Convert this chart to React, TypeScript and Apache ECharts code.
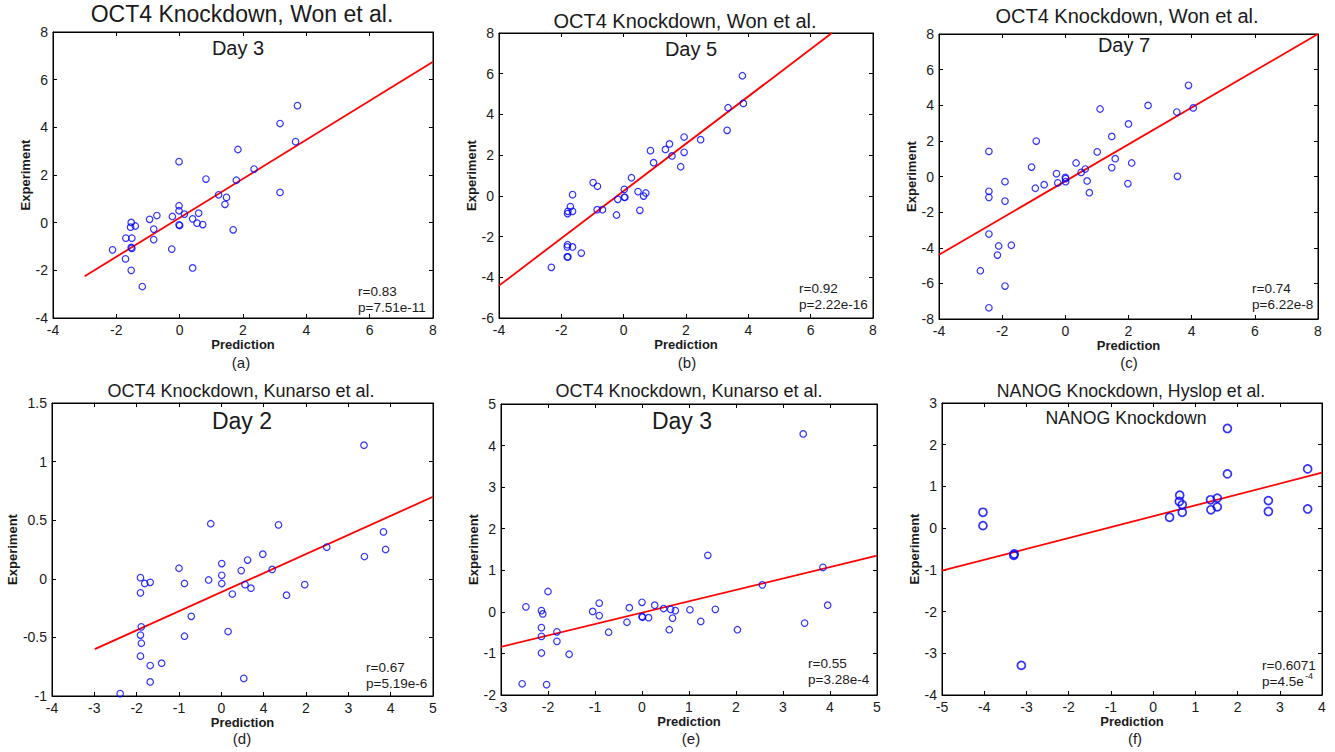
import React, { useEffect, useRef } from "react";
import * as echarts from "echarts";

// ---------- Data ----------
// (a) OCT4 Knockdown, Won et al., Day 3
const aPred = [-2.12, -1.7, -1.71, -1.53, -1.55, -1.4, -1.51, -1.53, -1.51, -1.53, -1.18, -0.95, -0.72, -0.82, -0.82, -0.25, -0.23, -0.02, -0.02, -0.02, -0.02, 0, 0.15, 0.41, 0.55, 0.6, 0.73, 0.41, 0.83, 1.23, 1.48, 1.43, 1.69, 1.79, 1.84, 2.35, 3.17, 3.17, 3.66, 3.72];
const aExp = [-1.14, -0.65, -1.52, 0.01, -0.19, -0.14, -0.65, -1.04, -1.08, -2.0, -2.68, 0.14, 0.3, -0.27, -0.71, -1.11, 0.26, 2.56, 0.71, 0.5, -0.09, -0.12, 0.36, 0.16, -0.02, 0.4, -0.08, -1.9, 1.83, 1.17, 1.06, 0.77, -0.3, 1.78, 3.07, 2.25, 4.16, 1.27, 3.4, 4.91];
const aFitX = [-3, 8];
const aFitY = [-2.25, 6.75];

// (b) OCT4 Knockdown, Won et al., Day 5
const bPred = [-2.32, -1.81, -1.79, -1.81, -1.8, -1.64, -1.36, -1.8, -1.79, -1.64, -1.71, -1.64, -0.98, -0.84, -0.85, -0.68, -0.23, -0.19, 0.02, 0.02, 0.04, 0.25, 0.46, 0.71, 0.64, 0.52, 0.86, 0.96, 1.34, 1.47, 1.55, 1.83, 1.94, 1.94, 2.47, 3.35, 3.32, 3.81, 3.84];
const bExp = [-3.51, -3.0, -3.0, -2.51, -2.4, -2.51, -2.81, -0.87, -0.76, -0.76, -0.53, 0.06, 0.65, 0.47, -0.68, -0.68, -0.94, -0.17, 0.32, -0.07, -0.07, 0.89, 0.21, 0.14, -0.01, -0.71, 2.22, 1.63, 2.28, 2.55, 1.96, 1.43, 2.89, 2.14, 2.76, 4.33, 3.22, 5.9, 4.54];
const bFitX = [-4, 6.68];
const bFitY = [-4.41, 8];

// (c) OCT4 Knockdown, Won et al., Day 7
const cPred = [-2.69, -2.42, -2.42, -2.42, -2.42, -2.42, -2.11, -2.15, -1.91, -1.91, -1.71, -1.91, -1.07, -0.92, -0.95, -0.67, -0.28, -0.24, 0, 0.01, 0.01, 0.34, 0.5, 0.63, 0.69, 0.76, 1.01, 1.1, 1.47, 1.58, 1.47, 2.0, 2.1, 1.98, 2.62, 3.53, 3.55, 3.9, 4.05];
const cExp = [-5.29, -7.37, -3.23, -0.83, -1.17, 1.41, -3.9, -4.41, -0.29, -1.38, -3.86, -6.15, 0.53, 1.99, -0.66, -0.46, 0.16, -0.36, -0.05, -0.12, -0.29, 0.76, 0.23, 0.42, -0.25, -0.91, 1.38, 3.79, 2.25, 1.0, 0.5, 2.95, 0.76, -0.4, 3.99, 3.62, 0.01, 5.12, 3.85];
const cFitX = [-4, 8];
const cFitY = [-4.39, 8];

// (d) OCT4 Knockdown, Kunarso et al., Day 2
const dPred = [-2.39, -1.91, -1.81, -1.68, -1.91, -1.89, -1.91, -1.89, -1.91, -1.68, -1.41, -1.68, -1.0, -0.87, -0.71, -0.87, -0.3, -0.25, 0.01, 0.01, 0.01, 0.26, 0.16, 0.47, 0.56, 0.62, 0.7, 0.98, 1.2, 1.35, 1.54, 1.97, 0.53, 2.49, 3.37, 3.38, 3.83, 3.88];
const dExp = [-0.98, 0.01, -0.04, -0.03, -0.12, -0.41, -0.48, -0.55, -0.66, -0.74, -0.72, -0.88, 0.09, -0.04, -0.32, -0.49, -0.01, 0.47, 0.13, 0.03, -0.04, -0.13, -0.45, 0.07, -0.05, 0.16, -0.08, 0.21, 0.08, 0.46, -0.14, -0.05, -0.85, 0.27, 1.14, 0.19, 0.4, 0.25];
const dFitX = [-2.99, 5];
const dFitY = [-0.6, 0.7];
const dXTickLabels = ["-4", "-3", "-2", "-1", "0", "4", "2", "3", "4", "5"];

// (e) OCT4 Knockdown, Kunarso et al., Day 3
const ePred = [-2.55, -2.47, -2.14, -2.11, -2.14, -2.14, -2.14, -2.0, -2.03, -1.81, -1.81, -1.55, -1.05, -0.91, -0.91, -0.71, -0.32, -0.27, 0, 0, 0.01, 0.14, 0.27, 0.46, 0.61, 0.71, 0.65, 0.58, 1.02, 1.25, 1.4, 1.56, 2.03, 2.56, 3.43, 3.46, 3.85, 3.95];
const eExp = [-1.73, 0.12, 0.03, -0.05, -0.38, -0.59, -0.99, 0.49, -1.75, -0.48, -0.71, -1.02, 0.01, 0.21, -0.09, -0.49, -0.25, 0.1, 0.23, -0.11, -0.13, -0.14, 0.16, 0.08, 0.06, 0.03, -0.15, -0.43, 0.05, -0.23, 1.36, 0.06, -0.43, 0.65, 4.28, -0.27, 1.07, 0.16];
const eFitX = [-3, 5];
const eFitY = [-0.84, 1.35];

// (f) NANOG Knockdown, Hyslop et al.
const fPred = [-4.03, -4.03, -3.3, -3.29, -3.12, 0.39, 0.63, 0.62, 0.69, 0.69, 1.36, 1.37, 1.52, 1.52, 1.76, 1.76, 2.73, 2.73, 3.66, 3.66];
const fExp = [0.38, 0.06, -0.65, -0.62, -3.29, 0.26, 0.79, 0.64, 0.56, 0.38, 0.68, 0.44, 0.72, 0.51, 2.39, 1.3, 0.66, 0.4, 1.42, 0.46];
const fFitX = [-5, 4];
const fFitY = [-1.02, 1.33];

const FONT = 'Arial, "Liberation Sans", Helvetica, sans-serif';
const TXT = "#1a1a1a";

type Panel = {
  pred: number[];
  exp: number[];
  fitX: number[];
  fitY: number[];
  grid: { left: number; top: number; width: number; height: number };
  x: [number, number, number];
  y: [number, number, number];
  xLabels?: string[];
  yNameGap: number;
  big?: boolean;
};

const panels: Panel[] = [
  { pred: aPred, exp: aExp, fitX: aFitX, fitY: aFitY, grid: { left: 53, top: 32, width: 380, height: 286 }, x: [-4, 8, 2], y: [-4, 8, 2], yNameGap: 21 },
  { pred: bPred, exp: bExp, fitX: bFitX, fitY: bFitY, grid: { left: 499, top: 33, width: 374, height: 285 }, x: [-4, 8, 2], y: [-6, 8, 2], yNameGap: 19 },
  { pred: cPred, exp: cExp, fitX: cFitX, fitY: cFitY, grid: { left: 939, top: 34, width: 379, height: 285 }, x: [-4, 8, 2], y: [-8, 8, 2], yNameGap: 19 },
  { pred: dPred, exp: dExp, fitX: dFitX, fitY: dFitY, grid: { left: 52, top: 403, width: 381, height: 293 }, x: [-4, 5, 1], y: [-1, 1.5, 0.5], xLabels: dXTickLabels, yNameGap: 33 },
  { pred: ePred, exp: eExp, fitX: eFitX, fitY: eFitY, grid: { left: 501, top: 404, width: 376, height: 291 }, x: [-3, 5, 1], y: [-2, 5, 1], yNameGap: 20 },
  { pred: fPred, exp: fExp, fitX: fFitX, fitY: fFitY, grid: { left: 942, top: 403, width: 380, height: 292 }, x: [-5, 4, 1], y: [-4, 3, 1], yNameGap: 19, big: true },
];

const titles = [
  { text: "OCT4 Knockdown, Won et al.", x: 242, y: 14, size: 23 },
  { text: "OCT4 Knockdown, Won et al.", x: 685, y: 21, size: 20 },
  { text: "OCT4 Knockdown, Won et al.", x: 1127, y: 16, size: 20 },
  { text: "OCT4 Knockdown, Kunarso et al.", x: 241, y: 391, size: 18 },
  { text: "OCT4 Knockdown, Kunarso et al.", x: 689, y: 391, size: 18 },
  { text: "NANOG Knockdown, Hyslop et al.", x: 1131, y: 391, size: 17.7 },
];
const subtitles = [
  { text: "Day 3", x: 238, y: 48, size: 20 },
  { text: "Day 5", x: 691, y: 49, size: 20 },
  { text: "Day 7", x: 1124, y: 45, size: 20 },
  { text: "Day 2", x: 242, y: 421, size: 23 },
  { text: "Day 3", x: 682, y: 421, size: 23 },
  { text: "NANOG Knockdown", x: 1126, y: 418, size: 17.7 },
];
const panelLetters = [
  { text: "(a)", x: 241, y: 362 },
  { text: "(b)", x: 687, y: 362 },
  { text: "(c)", x: 1129, y: 362 },
  { text: "(d)", x: 242, y: 738 },
  { text: "(e)", x: 691, y: 738 },
  { text: "(f)", x: 1135, y: 738 },
];
const stats = [
  { r: "r=0.83", p: "p=7.51e-11", x: 358, y: 291 },
  { r: "r=0.92", p: "p=2.22e-16", x: 799, y: 288 },
  { r: "r=0.74", p: "p=6.22e-8", x: 1252, y: 288 },
  { r: "r=0.67", p: "p=5.19e-6", x: 366, y: 667 },
  { r: "r=0.55", p: "p=3.28e-4", x: 808, y: 663 },
  { r: "r=0.6071", p: "p=4.5e", x: 1262, y: 665, sup: "-4" },
];

function txt(text: string, x: number, y: number, size: number, extra: any = {}) {
  return {
    type: "text",
    x,
    y,
    z: 100,
    style: {
      text,
      fill: TXT,
      fontSize: size,
      fontFamily: FONT,
      textAlign: extra.align || "center",
      align: extra.align || "center",
      textVerticalAlign: "middle",
      verticalAlign: "middle",
      fontWeight: extra.weight || "normal",
    },
  };
}

function buildOption() {
  const grid: any[] = [];
  const xAxis: any[] = [];
  const yAxis: any[] = [];
  const series: any[] = [];
  const axisLine = { show: true, onZero: false, lineStyle: { color: "#000", width: 1 } };
  const tick = { show: true, inside: true, length: 4, lineStyle: { color: "#000", width: 1 } };

  panels.forEach((p, i) => {
    grid.push({ ...p.grid, show: true, borderColor: "#000", borderWidth: 1, backgroundColor: "#fff" });
    const xLabels = p.xLabels;
    xAxis.push({
      type: "value",
      gridIndex: i,
      position: "bottom",
      min: p.x[0],
      max: p.x[1],
      interval: p.x[2],
      axisLine,
      axisTick: tick,
      splitLine: { show: false },
      axisLabel: {
        show: true,
        margin: 5,
        color: TXT,
        fontSize: 14,
        fontFamily: FONT,
        formatter: xLabels
          ? (v: number) => xLabels[Math.round((v - p.x[0]) / p.x[2])] ?? String(v)
          : undefined,
      },
      name: "Prediction",
      nameLocation: "middle",
      nameGap: 20,
      nameTextStyle: { color: TXT, fontSize: 13, fontWeight: "bold", fontFamily: FONT },
    });
    xAxis.push({
      type: "value",
      gridIndex: i,
      position: "top",
      min: p.x[0],
      max: p.x[1],
      interval: p.x[2],
      axisLine,
      axisTick: tick,
      axisLabel: { show: false },
      splitLine: { show: false },
    });
    yAxis.push({
      type: "value",
      gridIndex: i,
      position: "left",
      min: p.y[0],
      max: p.y[1],
      interval: p.y[2],
      axisLine,
      axisTick: tick,
      splitLine: { show: false },
      axisLabel: { show: true, margin: 5, color: TXT, fontSize: 14, fontFamily: FONT },
      name: "Experiment",
      nameLocation: "middle",
      nameGap: p.yNameGap,
      nameTextStyle: { color: TXT, fontSize: 13, fontWeight: "bold", fontFamily: FONT },
    });
    yAxis.push({
      type: "value",
      gridIndex: i,
      position: "right",
      min: p.y[0],
      max: p.y[1],
      interval: p.y[2],
      axisLine,
      axisTick: tick,
      axisLabel: { show: false },
      splitLine: { show: false },
    });
    series.push({
      type: "line",
      xAxisIndex: i * 2,
      yAxisIndex: i * 2,
      data: p.fitX.map((x, k) => [x, p.fitY[k]]),
      showSymbol: false,
      symbol: "none",
      lineStyle: { color: "#ff0000", width: 1.8 },
      z: 3,
      silent: true,
    });
    series.push({
      type: "scatter",
      xAxisIndex: i * 2,
      yAxisIndex: i * 2,
      data: p.pred.map((x, k) => [x, p.exp[k]]),
      symbol: "circle",
      symbolSize: p.big ? 8 : 6.5,
      itemStyle: { color: "rgba(0,0,0,0)", borderColor: "#0000ff", borderWidth: p.big ? 1.7 : 1.2 },
      z: 4,
      silent: true,
    });
  });

  const graphic: any[] = [];
  titles.forEach((t) => graphic.push(txt(t.text, t.x, t.y, t.size)));
  subtitles.forEach((t) => graphic.push(txt(t.text, t.x, t.y, t.size)));
  panelLetters.forEach((t) => graphic.push(txt(t.text, t.x, t.y, 15)));
  stats.forEach((s: any) => {
    graphic.push(txt(s.r, s.x, s.y, 13.5, { align: "left" }));
    graphic.push(txt(s.p, s.x, s.y + 16, 13.5, { align: "left" }));
    if (s.sup) {
      graphic.push(txt(s.sup, s.x + 43, s.y + 11, 9, { align: "left" }));
    }
  });

  return {
    animation: false,
    backgroundColor: "#ffffff",
    textStyle: { fontFamily: FONT },
    grid,
    xAxis,
    yAxis,
    series,
    graphic,
  };
}

export default function App() {
  const ref = useRef<HTMLDivElement>(null);
  useEffect(() => {
    if (!ref.current) return;
    const chart = echarts.init(ref.current, undefined, { renderer: "svg" });
    chart.setOption(buildOption() as any);
    return () => chart.dispose();
  }, []);
  return (
    <div
      ref={ref}
      style={{ position: "absolute", left: 0, top: 0, width: 1335, height: 752, background: "#fff" }}
    />
  );
}
